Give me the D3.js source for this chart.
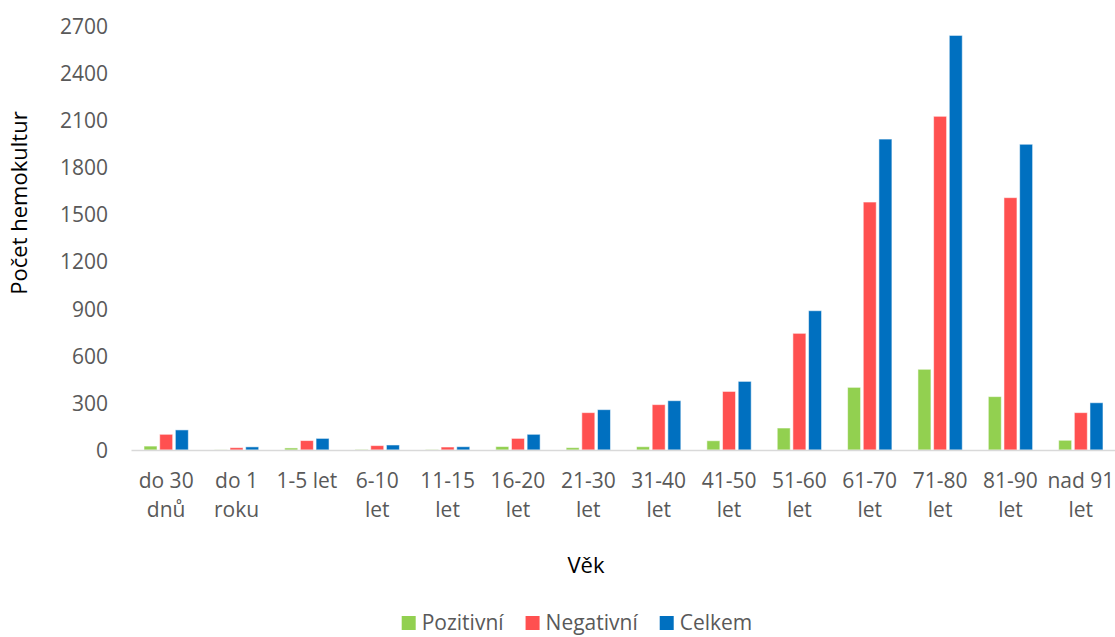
<!DOCTYPE html>
<html>
<head>
<meta charset="utf-8">
<script src="https://cdn.jsdelivr.net/npm/d3@7/dist/d3.min.js"></script>
<style>
  html, body { margin: 0; padding: 0; background: #fff; }
  svg { display: block; font-family: "Open Sans", "Noto Sans", sans-serif; }
</style>
</head>
<body>
<svg id="chart" width="1115" height="637"></svg>
<script>
// Age groups (line breaks mark where the label wraps)
const categories = [
  "do 30\ndnů", "do 1\nroku", "1-5 let", "6-10\nlet", "11-15\nlet", "16-20\nlet",
  "21-30\nlet", "31-40\nlet", "41-50\nlet", "51-60\nlet", "61-70\nlet",
  "71-80\nlet", "81-90\nlet", "nad 91\nlet"
];
const seriesNames = ["Pozitivní", "Negativní", "Celkem"];
const seriesColors = ["#92D050", "#FF5050", "#0070C0"];

const pozitivni = [25, 1, 13, 3, 2, 22, 15, 21, 59, 140, 399, 514, 340, 62];
const negativni = [100, 15, 60, 28, 19, 74, 238, 289, 373, 743, 1579, 2125, 1607, 238];
const celkem    = [128, 20, 74, 32, 21, 100, 257, 314, 437, 887, 1980, 2640, 1947, 301];

const yTicks = [0, 300, 600, 900, 1200, 1500, 1800, 2100, 2400, 2700];

const seriesValues = [pozitivni, negativni, celkem];

const FONT = 21;
const svg = d3.select("#chart");
const W = 1115, H = 637;
svg.append("rect").attr("width", W).attr("height", H).attr("fill", "#fff");

const plot = { left: 131, right: 1116, top: 26, bottom: 450 };

const x0 = d3.scaleBand()
  .domain(d3.range(categories.length))
  .range([plot.left, plot.right])
  .paddingInner(0.37)
  .paddingOuter(0.185);

const x1 = d3.scaleBand()
  .domain(d3.range(seriesNames.length))
  .range([0, x0.bandwidth()])
  .paddingInner(0.17);

const y = d3.scaleLinear()
  .domain([0, 2700])
  .range([plot.bottom, plot.top]);

// Bars
const groups = svg.append("g")
  .selectAll("g")
  .data(categories.map((c, i) => i))
  .join("g")
  .attr("transform", i => `translate(${x0(i)},0)`);

groups.selectAll("rect")
  .data(i => seriesValues.map((vals, s) => ({ s, v: vals[i] })))
  .join("rect")
  .attr("x", d => x1(d.s))
  .attr("width", x1.bandwidth())
  .attr("y", d => y(d.v))
  .attr("height", d => y(0) - y(d.v))
  .attr("fill", d => seriesColors[d.s])
  .attr("stroke", "#ffffff")
  .attr("stroke-opacity", 0.55)
  .attr("stroke-width", 1);

// Category axis line
const xAxis = d3.axisBottom(d3.scaleLinear().domain([0, 1]).range([plot.left, plot.right]))
  .ticks(0).tickSize(0).tickFormat("");
const xg = svg.append("g").attr("transform", `translate(0,${plot.bottom})`).call(xAxis);
xg.select(".domain").attr("stroke", "#d9d9d9").attr("stroke-width", 1.5);

// Category labels
const catLabels = svg.append("g")
  .selectAll("text")
  .data(categories)
  .join("text")
  .attr("x", (d, i) => x0(i) + x0.bandwidth() / 2)
  .attr("y", 488)
  .attr("text-anchor", "middle")
  .attr("font-size", FONT)
  .attr("fill", "#595959");
catLabels.selectAll("tspan")
  .data(d => d.split("\n"))
  .join("tspan")
  .attr("x", function () { return this.parentNode.getAttribute("x"); })
  .attr("dy", (d, i) => i === 0 ? 0 : 29)
  .text(d => d);

// Value axis labels
const yAxis = d3.axisLeft(y).tickValues(yTicks).tickFormat(d3.format("d")).tickSize(0).tickPadding(0);
const yg = svg.append("g").attr("transform", "translate(108,0)").call(yAxis);
yg.select(".domain").remove();
yg.selectAll("text")
  .attr("font-size", FONT)
  .attr("font-family", "\"Open Sans\", \"Noto Sans\", sans-serif")
  .attr("fill", "#595959")
  .attr("dy", "0.35em");

// Axis titles
svg.append("text")
  .attr("transform", "translate(27,203) rotate(-90)")
  .attr("text-anchor", "middle")
  .attr("font-size", 22)
  .attr("fill", "#000")
  .text("Počet hemokultur");

svg.append("text")
  .attr("x", 586)
  .attr("y", 573)
  .attr("text-anchor", "middle")
  .attr("font-size", 22)
  .attr("fill", "#000")
  .text("Věk");

// Legend
const legend = svg.append("g");
const items = legend.selectAll("g")
  .data(seriesNames)
  .join("g");
items.append("rect")
  .attr("width", 14).attr("height", 14)
  .attr("y", 616)
  .attr("fill", (d, i) => seriesColors[i]);
items.append("text")
  .attr("x", 20)
  .attr("y", 630)
  .attr("font-size", FONT)
  .attr("fill", "#595959")
  .text(d => d);

const gap = 22;
const widths = items.nodes().map(n => 20 + d3.select(n).select("text").node().getComputedTextLength());
const total = d3.sum(widths) + gap * (widths.length - 1);
let cx = 577 - total / 2;
items.attr("transform", (d, i) => {
  const t = `translate(${cx},0)`;
  cx += widths[i] + gap;
  return t;
});
</script>
</body>
</html>
